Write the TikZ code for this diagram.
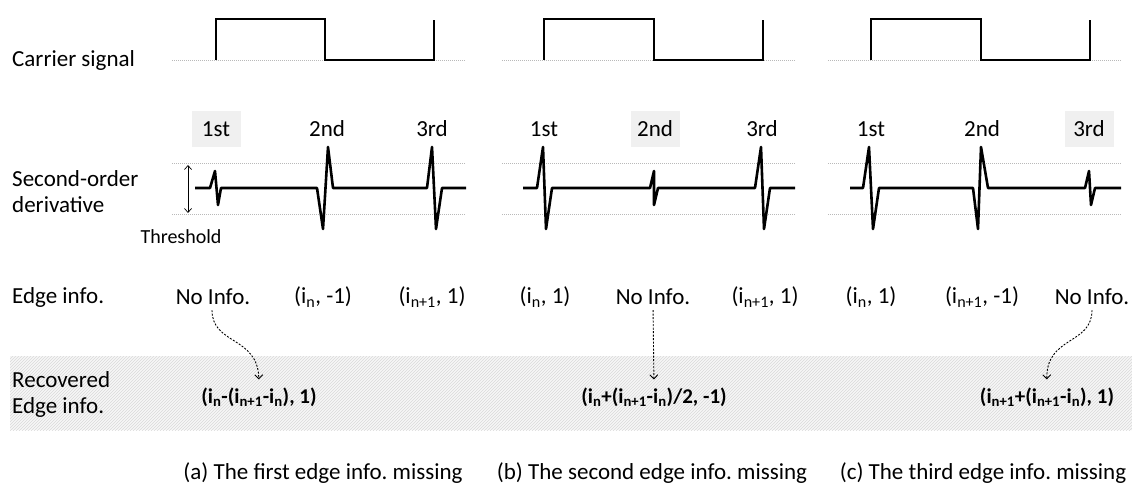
\documentclass[tikz,border=0pt]{standalone}
\usepackage{fontspec}
\setmainfont{Carlito}
\usetikzlibrary{patterns,arrows.meta}
\frenchspacing
\begin{document}
\begin{tikzpicture}[x=1pt,y=-1pt,
  lbl/.style={font=\fontsize{23}{26}\selectfont, inner sep=0pt},
  rowlbl/.style={lbl, anchor=west, align=left},
  ord/.style={lbl, minimum width=49pt, minimum height=36pt},
  hl/.style={fill=black!6},
  formula/.style={font=\fontsize{21}{24}\selectfont\bfseries, inner sep=0pt},
  caption/.style={font=\fontsize{23}{26}\selectfont, inner sep=0pt},
  guide/.style={gray!55, line width=0.7pt, dash pattern=on 1pt off 1pt},
  sig/.style={line width=2.8pt, line join=miter},
  der/.style={line width=2.6pt, line join=round},
  recarrow/.style={line width=0.9pt, dash pattern=on 2pt off 1.5pt, -{Straight Barb[length=4pt,width=8pt]}},
]
\useasboundingbox (0,0) rectangle (1132,486);

% recovered band
\fill[gray!6] (10,356) rectangle (1132,430);
\fill[pattern=north east lines, pattern color=gray!30] (10,356) rectangle (1132,430);

% guide lines
\foreach \xa/\xb in {172/466, 502/795, 828/1122}{
  \draw[guide] (\xa,60) -- (\xb,60);
  \draw[guide] (\xa,163) -- (\xb,163);
  \draw[guide] (\xa,214) -- (\xb,214);
}

% carrier signals
\foreach \xa/\xb/\xc in {216/325/434, 544/654/763, 871/981/1090}{
  \draw[sig] (\xa,60) -- (\xa,19) -- (\xb,19) -- (\xb,60) -- (\xc,60) -- (\xc,20);
}

% second-order derivatives
\draw[der] (195,188) -- (210,188) -- (215,171) -- (218,205) -- (221,188) -- (317,188) -- (323,229) -- (328,147) -- (333,188) -- (427,188) -- (432,147) -- (436,229) -- (442,188) -- (466,188);
\draw[der] (523,188) -- (537,188) -- (543,147) -- (546,229) -- (552,188) -- (650,188) -- (654,171) -- (654,205) -- (658,188) -- (755,188) -- (761,147) -- (764,229) -- (770,188) -- (795,188);
\draw[der] (850,188) -- (863,188) -- (869,147) -- (873,229) -- (879,188) -- (973,188) -- (978,229) -- (981,147) -- (988,188) -- (1085,188) -- (1089,171) -- (1091,205) -- (1095,188) -- (1121,188);

% threshold
\coordinate (thtop) at (188,165);
\coordinate (thbot) at (188,213);
\draw[line width=0.7pt, {Straight Barb[length=4pt,width=7pt]}-{Straight Barb[length=4pt,width=7pt]}] (thtop) -- (thbot);
\node[font=\fontsize{20}{23}\selectfont, inner sep=0pt] (thr) at (181,237) {Threshold};

% row labels
\node[rowlbl] (lcar) at (12,60) {Carrier signal};
\node[rowlbl] (lder) at (12,192) {Second-order\\derivative};
\node[rowlbl] (ledge) at (12,297) {Edge info.};
\node[rowlbl] (lrec) at (12,394) {Recovered\\Edge info.};

% ordinal labels
\node[ord, hl] (a1) at (216,129) {1st};
\node[ord] (a2) at (327,129) {2nd};
\node[ord] (a3) at (432,129) {3rd};
\node[ord] (b1) at (544,129) {1st};
\node[ord, hl] (b2) at (655,129) {2nd};
\node[ord] (b3) at (762,129) {3rd};
\node[ord] (c1) at (871,129) {1st};
\node[ord] (c2) at (982,129) {2nd};
\node[ord, hl] (c3) at (1089,129) {3rd};

% edge info
\node[lbl] (ea1) at (213,297) {No Info.};
\node[lbl] (ea2) at (323,297) {(i\textsubscript{n}, -1)};
\node[lbl] (ea3) at (432,297) {(i\textsubscript{n+1}, 1)};
\node[lbl] (eb1) at (545,297) {(i\textsubscript{n}, 1)};
\node[lbl] (eb2) at (653,297) {No Info.};
\node[lbl] (eb3) at (765,297) {(i\textsubscript{n+1}, 1)};
\node[lbl] (ec1) at (871,297) {(i\textsubscript{n}, 1)};
\node[lbl] (ec2) at (982,297) {(i\textsubscript{n+1}, -1)};
\node[lbl] (ec3) at (1092,297) {No Info.};

% recovered formulas
\node[formula] (ra) at (259,397) {(i\textsubscript{n}-(i\textsubscript{n+1}-i\textsubscript{n}), 1)};
\node[formula] (rb) at (654,397) {(i\textsubscript{n}+(i\textsubscript{n+1}-i\textsubscript{n})/2, -1)};
\node[formula] (rc) at (1047,397) {(i\textsubscript{n+1}+(i\textsubscript{n+1}-i\textsubscript{n}), 1)};

% arrows
\draw[recarrow, shorten <=5pt, shorten >=8pt] (ea1.south -| 212,0) .. controls (212,345) and (258,336) .. (ra.north);
\draw[recarrow, shorten <=5pt, shorten >=8pt] (eb2.south) -- (rb.north);
\draw[recarrow, shorten <=5pt, shorten >=8pt] (ec3.south) .. controls (1092,345) and (1046,336) .. (rc.north);

% captions
\node[caption] (capa) at (323,473) {(a) The first edge info. missing};
\node[caption] (capb) at (652,473) {(b) The second edge info. missing};
\node[caption] (capc) at (983,473) {(c) The third edge info. missing};
\end{tikzpicture}
\end{document}
